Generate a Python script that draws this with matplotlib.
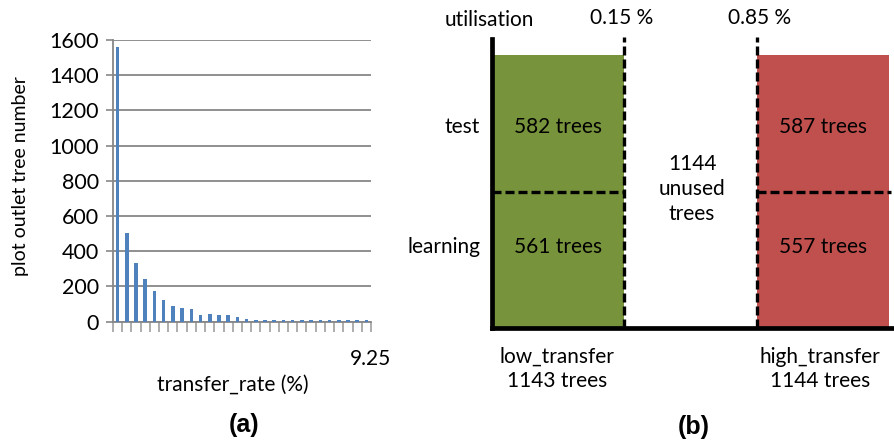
import numpy as np
import matplotlib
matplotlib.use("Agg")
import matplotlib.pyplot as plt

# ---------------- data ----------------
# (a) histogram of plot outlet tree number per transfer_rate bin
counts = [1562, 502, 335, 244, 176, 123, 90, 77, 70, 36, 44, 37, 37, 24, 17,
          9, 9, 9, 9, 9, 9, 9, 9, 10, 10, 10, 10, 10]
last_tick_label = "9.25"
y_ticks = [0, 200, 400, 600, 800, 1000, 1200, 1400, 1600]

# (b) split schematic
groups = ["low_transfer", "unused", "high_transfer"]
group_totals = [1143, 1144, 1144]
learning_counts = [561, 557]   # low, high
test_counts = [582, 587]       # low, high
thresholds = ["0.15 %", "0.85 %"]
row_labels = ["learning", "test"]

W, H = 895, 441
FONT = "Lato"
FS = 15
plt.rcParams['font.family'] = [FONT, 'DejaVu Sans']

fig = plt.figure(figsize=(W / 100, H / 100), dpi=100)


def fpos(x, y):
    return x / W, 1 - y / H


# ---------------- panel (a) ----------------
axa = fig.add_axes([113 / W, (H - 321.7) / H, 258 / W, 281.7 / H])
xs = np.arange(len(counts))
axa.bar(xs, counts, width=0.38, color="#4F81BD", zorder=3)
axa.set_xlim(-0.5, len(counts) - 0.5)
axa.set_ylim(0, 1600)
axa.set_yticks(y_ticks)
axa.set_yticklabels([str(v) for v in y_ticks], fontsize=FS + 0.5)
tick_pos = np.arange(-0.5, len(counts), 1.0)
axa.set_xticks(tick_pos)
labels = [""] * len(tick_pos)
labels[-1] = last_tick_label
axa.set_xticklabels(labels, fontsize=FS)
axa.tick_params(axis='x', length=7, width=1.2, color="#A0A0A0", pad=13)
axa.tick_params(axis='y', length=5, width=1.2, color="#878787", pad=5)
for lbl in axa.get_xticklabels():
    lbl.set_horizontalalignment('center')
axa.grid(axis='y', color="#878787", linewidth=1.3, zorder=0)
for s in ["top", "right"]:
    axa.spines[s].set_visible(False)
axa.spines["left"].set_color("#878787")
axa.spines["bottom"].set_color("#878787")
axa.spines["left"].set_linewidth(1.3)
axa.spines["bottom"].set_linewidth(1.3)

fig.text(*fpos(21, 176), "plot outlet tree number", rotation=90,
         ha='center', va='center', fontsize=14)
fig.text(*fpos(233, 385), "transfer_rate (%)", ha='center', va='center', fontsize=FS)
fig.text(*fpos(244, 425), "(a)", ha='center', va='center', fontsize=18,
         fontweight='bold', family=['Liberation Sans', 'DejaVu Sans'])

# ---------------- panel (b) ----------------
ux, uy = 132.5, 136.5
x0, y0 = 492, 328
axb = fig.add_axes([x0 / W, (H - y0) / H, (W - x0) / W, (y0 - 39) / H])
axb.set_xlim(0, (W - x0) / ux)
axb.set_ylim(0, (y0 - 39) / uy)
green, red = "#77933C", "#C0504D"
bar_x = [0.5, 2.5]
axb.bar(bar_x, [1, 1], width=1.0, bottom=0, color=[green, red], zorder=1)
axb.bar(bar_x, [1, 1], width=1.0, bottom=1, color=[green, red], zorder=1)

dash = (0, (2.7, 1.2))
top_dash = (y0 - 37) / uy
for xv in [1, 2]:
    axb.plot([xv, xv], [0, top_dash], color='black', lw=2.4, linestyle=dash,
             clip_on=False, zorder=3)
axb.plot([0, 1], [1, 1], color='black', lw=2.4, linestyle=dash, zorder=3)
axb.plot([2, 3.01], [1, 1], color='black', lw=2.4, linestyle=dash, zorder=3,
         clip_on=False)

for s in ["top", "right"]:
    axb.spines[s].set_visible(False)
for s in ["left", "bottom"]:
    axb.spines[s].set_linewidth(3.4)
    axb.spines[s].set_color('black')
    axb.spines[s].set_zorder(4)
axb.set_xticks([])
axb.set_yticks([])

# texts inside bars
y_test, y_learn = 1.47, 0.59
for xc, t, l in zip(bar_x, test_counts, learning_counts):
    axb.text(xc, y_test, f"{t} trees", ha='center', va='center', fontsize=FS, zorder=5)
    axb.text(xc, y_learn, f"{l} trees", ha='center', va='center', fontsize=FS, zorder=5)

axb.text(1.51, 1.02, f"{group_totals[1]}\n{groups[1]}\ntrees", ha='center',
         va='center', fontsize=FS, linespacing=1.3)

axb.text(-0.09, y_test, row_labels[1], ha='right', va='center', fontsize=FS, clip_on=False)
axb.text(-0.09, y_learn, row_labels[0], ha='right', va='center', fontsize=FS, clip_on=False)

fig.text(*fpos(489, 20), "utilisation", ha='center', va='center', fontsize=FS)
fig.text(*fpos(622, 18), thresholds[0], ha='center', va='center', fontsize=FS)
fig.text(*fpos(760, 18), thresholds[1], ha='center', va='center', fontsize=FS)

fig.text(*fpos(557, 369), f"{groups[0]}\n{group_totals[0]} trees", ha='center',
         va='center', fontsize=FS, linespacing=1.3)
fig.text(*fpos(820, 369), f"{groups[2]}\n{group_totals[2]} trees", ha='center',
         va='center', fontsize=FS, linespacing=1.3)

fig.text(*fpos(694, 427), "(b)", ha='center', va='center', fontsize=18,
         fontweight='bold', family=['Liberation Sans', 'DejaVu Sans'])

fig.savefig("out.png", dpi=100)
